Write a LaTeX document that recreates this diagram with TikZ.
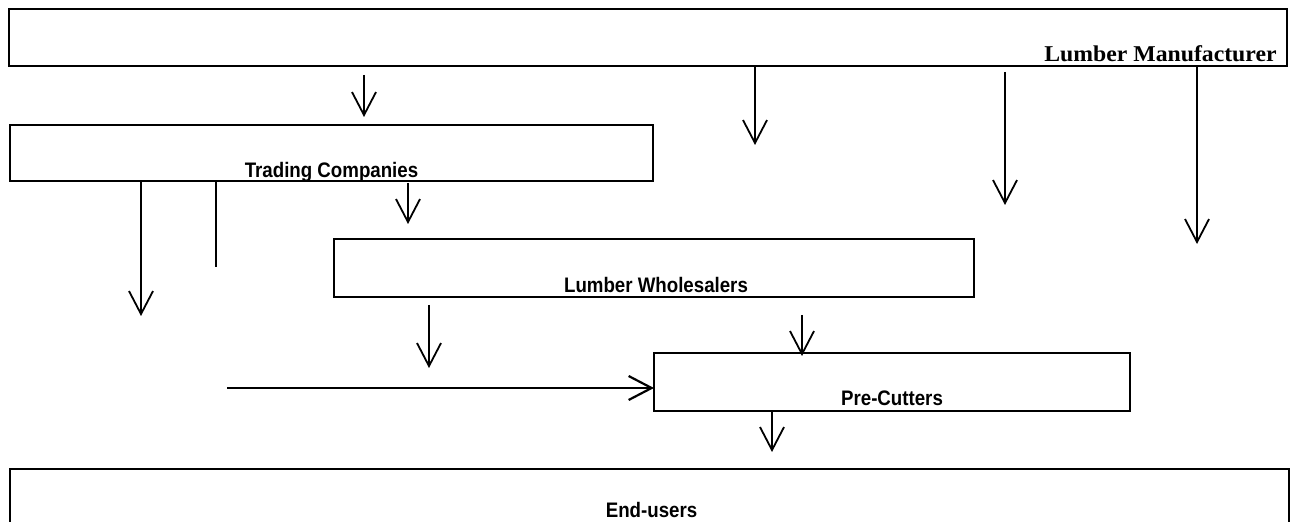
\documentclass[tikz,border=0pt]{standalone}
\usepackage{fontspec}
\setmainfont{Liberation Serif}
\newfontfamily\flowfont[FakeStretch=0.89]{Liberation Sans}
\newfontfamily\makerfont[FakeStretch=1.05]{Liberation Serif}
\usetikzlibrary{calc}
\usetikzlibrary{arrows.meta}

\begin{document}
\begin{tikzpicture}[x=0.5pt, y=-0.5pt, >={Straight Barb[length=11.5pt, width=12pt]}]
            \tikzstyle{box} = [draw, line width=1.3pt, inner sep=0pt, outer sep=0pt, anchor=north west]
            \tikzstyle{flow} = [line width=0.9pt]
            \tikzstyle{tag} = [inner sep=0pt, anchor=base, font=\flowfont\bfseries\fontsize{10.5pt}{12pt}\selectfont]
            \useasboundingbox (0, 0) rectangle (1294, 522);
            \clip (0, 0) rectangle (1294, 522);
            % boxes
            \node[box, minimum width=639pt, minimum height=28.5pt] (manuf) at (9, 9) {};
            \node[box, minimum width=321.5pt, minimum height=28pt] (trade) at (10, 125) {};
            \node[box, minimum width=320pt, minimum height=29pt] (whole) at (334, 239) {};
            \node[box, minimum width=238pt, minimum height=29pt] (precut) at (654, 353) {};
            \node[box, minimum width=639.5pt, minimum height=30pt] (enduse) at (10, 469) {};
            \node[tag, anchor=base east, font=\makerfont\bfseries\fontsize{11.3pt}{13pt}\selectfont] (manuftext) at ($(manuf.south east)+(-10, -4)$) {Lumber Manufacturer};
            \node[tag] (tradetext) at ($(trade.south)+(0, -3)$) {Trading Companies};
            \node[tag] (wholetext) at ($(whole.south)+(2, -4)$) {Lumber Wholesalers};
            \node[tag] (precuttext) at ($(precut.south)+(0, -5)$) {Pre-Cutters};
            \node[tag] (endusetext) at ($(enduse.north)+(2, 49)$) {End-users};
            % free ends
            \coordinate (m1) at (755, 145);
            \coordinate (m2) at (1005, 205);
            \coordinate (m3) at (1197, 244);
            \coordinate (t1) at (141, 316);
            \coordinate (t2) at (216, 267);
            \coordinate (w1) at (429, 368);
            \coordinate (p1) at (772, 452);
            \coordinate (h0) at (227, 388);
            % flows
            \draw[flow, ->] ($(manuf.south west)+(355, 9)$) -- ($(trade.north west)+(354, -8)$);
            \draw[flow, ->] (manuf.south -| m1) -- (m1);
            \draw[flow, ->] ($(manuf.south -| m2)+(0, 6)$) -- (m2);
            \draw[flow, ->] (manuf.south -| m3) -- (m3);
            \draw[flow, ->] (trade.south -| t1) -- (t1);
            \draw[flow] (trade.south -| t2) -- (t2);
            \draw[flow, ->] ($(trade.south west)+(398, 2)$) -- ($(whole.north west)+(74, -15)$);
            \draw[flow, ->] ($(whole.south west)+(95, 8)$) -- (w1);
            \draw[flow, ->] ($(whole.south west)+(468, 18)$) -- ($(precut.north west)+(148, 3)$);
            \draw[flow, line width=1.1pt, ->] (h0) -- (precut.west |- h0);
            \draw[flow, ->] (precut.south -| p1) -- (p1);
        \end{tikzpicture}
\end{document}
